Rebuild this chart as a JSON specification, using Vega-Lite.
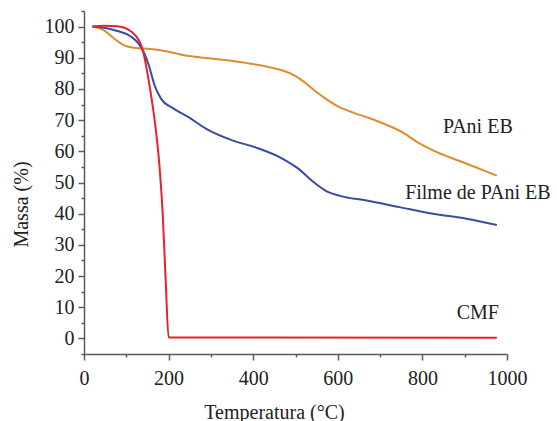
{
  "$schema": "https://vega.github.io/schema/vega-lite/v6.json",
  "width": 423,
  "height": 343,
  "autosize": {"type": "none"},
  "padding": {"left": 84, "top": 11, "right": 50, "bottom": 67},
  "background": "white",
  "config": {
    "view": {"stroke": null},
    "font": "serif"
  },
  "datasets": {
    "tga": [
      {"serie": "PAni EB", "T": 20, "M": 100.0},
      {"serie": "PAni EB", "T": 47, "M": 98.8},
      {"serie": "PAni EB", "T": 71, "M": 96.2},
      {"serie": "PAni EB", "T": 95, "M": 94.0},
      {"serie": "PAni EB", "T": 118, "M": 93.2},
      {"serie": "PAni EB", "T": 158, "M": 92.8},
      {"serie": "PAni EB", "T": 197, "M": 92.0},
      {"serie": "PAni EB", "T": 237, "M": 90.8},
      {"serie": "PAni EB", "T": 276, "M": 90.1},
      {"serie": "PAni EB", "T": 332, "M": 89.3},
      {"serie": "PAni EB", "T": 390, "M": 88.2},
      {"serie": "PAni EB", "T": 438, "M": 87.0},
      {"serie": "PAni EB", "T": 470, "M": 85.9},
      {"serie": "PAni EB", "T": 495, "M": 84.5},
      {"serie": "PAni EB", "T": 517, "M": 82.6},
      {"serie": "PAni EB", "T": 545, "M": 79.5},
      {"serie": "PAni EB", "T": 570, "M": 77.0},
      {"serie": "PAni EB", "T": 598, "M": 74.6},
      {"serie": "PAni EB", "T": 635, "M": 72.5},
      {"serie": "PAni EB", "T": 675, "M": 70.6},
      {"serie": "PAni EB", "T": 715, "M": 68.5},
      {"serie": "PAni EB", "T": 754, "M": 66.0},
      {"serie": "PAni EB", "T": 790, "M": 62.8},
      {"serie": "PAni EB", "T": 825, "M": 60.3},
      {"serie": "PAni EB", "T": 896, "M": 56.5},
      {"serie": "PAni EB", "T": 976, "M": 52.2},
      {"serie": "Filme de PAni EB", "T": 20, "M": 100.0},
      {"serie": "Filme de PAni EB", "T": 47, "M": 99.6},
      {"serie": "Filme de PAni EB", "T": 79, "M": 98.6},
      {"serie": "Filme de PAni EB", "T": 110, "M": 96.9},
      {"serie": "Filme de PAni EB", "T": 130, "M": 94.4},
      {"serie": "Filme de PAni EB", "T": 142, "M": 91.6},
      {"serie": "Filme de PAni EB", "T": 154, "M": 87.3},
      {"serie": "Filme de PAni EB", "T": 166, "M": 81.5},
      {"serie": "Filme de PAni EB", "T": 182, "M": 76.9},
      {"serie": "Filme de PAni EB", "T": 213, "M": 73.6},
      {"serie": "Filme de PAni EB", "T": 250, "M": 70.7},
      {"serie": "Filme de PAni EB", "T": 288, "M": 67.3},
      {"serie": "Filme de PAni EB", "T": 351, "M": 63.5},
      {"serie": "Filme de PAni EB", "T": 407, "M": 61.2},
      {"serie": "Filme de PAni EB", "T": 470, "M": 57.6},
      {"serie": "Filme de PAni EB", "T": 505, "M": 54.6},
      {"serie": "Filme de PAni EB", "T": 545, "M": 49.9},
      {"serie": "Filme de PAni EB", "T": 575, "M": 47.1},
      {"serie": "Filme de PAni EB", "T": 605, "M": 45.7},
      {"serie": "Filme de PAni EB", "T": 668, "M": 44.2},
      {"serie": "Filme de PAni EB", "T": 746, "M": 42.1},
      {"serie": "Filme de PAni EB", "T": 825, "M": 40.0},
      {"serie": "Filme de PAni EB", "T": 904, "M": 38.4},
      {"serie": "Filme de PAni EB", "T": 976, "M": 36.4},
      {"serie": "CMF", "T": 20, "M": 100.0},
      {"serie": "CMF", "T": 47, "M": 100.3},
      {"serie": "CMF", "T": 79, "M": 100.1},
      {"serie": "CMF", "T": 103, "M": 99.2},
      {"serie": "CMF", "T": 122, "M": 97.1},
      {"serie": "CMF", "T": 134, "M": 94.4},
      {"serie": "CMF", "T": 142, "M": 90.7},
      {"serie": "CMF", "T": 150, "M": 85.0},
      {"serie": "CMF", "T": 158, "M": 78.5},
      {"serie": "CMF", "T": 166, "M": 71.0},
      {"serie": "CMF", "T": 178, "M": 56.0},
      {"serie": "CMF", "T": 186, "M": 40.0},
      {"serie": "CMF", "T": 193, "M": 19.0},
      {"serie": "CMF", "T": 200, "M": 0.3},
      {"serie": "CMF", "T": 976, "M": 0.2}
    ],
    "labels": [
      {"label": "PAni EB", "T": 931, "M": 67.8},
      {"label": "Filme de PAni EB", "T": 931, "M": 46.5},
      {"label": "CMF", "T": 931, "M": 8.3}
    ]
  },
  "encoding": {
    "x": {
      "field": "T",
      "type": "quantitative",
      "scale": {"domain": [0, 1000], "nice": false, "zero": false},
      "axis": {
        "title": "Temperatura (°C)",
        "values": [0, 100, 200, 300, 400, 500, 600, 700, 800, 900, 1000],
        "format": "d",
        "labelExpr": "datum.value % 200 === 0 ? datum.label : ''",
        "tickSize": {"condition": {"test": "datum.value % 200 === 0", "value": 6}, "value": 3},
        "grid": false,
        "domainColor": "#5a5a5a",
        "tickColor": "#5a5a5a",
        "domainWidth": 1.5,
        "tickWidth": 1.5,
        "labelFont": "serif",
        "labelFontSize": 20,
        "labelColor": "#222222",
        "labelPadding": 8,
        "labelFlush": false,
        "labelOverlap": false,
        "titleFont": "serif",
        "titleFontSize": 20,
        "titleFontWeight": "normal",
        "titleColor": "#222222",
        "titleX": 190,
        "titleY": 64,
        "titleBaseline": "alphabetic"
      }
    },
    "y": {
      "field": "M",
      "type": "quantitative",
      "scale": {"domain": [-5, 105], "nice": false, "zero": false},
      "axis": {
        "title": "Massa (%)",
        "values": [-5, 0, 5, 10, 15, 20, 25, 30, 35, 40, 45, 50, 55, 60, 65, 70, 75, 80, 85, 90, 95, 100, 105],
        "format": "d",
        "labelExpr": "(datum.value % 10 === 0 && datum.value >= 0 && datum.value <= 100) ? datum.label : ''",
        "tickSize": {"condition": {"test": "datum.value % 10 === 0", "value": 6}, "value": 3},
        "grid": false,
        "domainColor": "#5a5a5a",
        "tickColor": "#5a5a5a",
        "domainWidth": 1.5,
        "tickWidth": 1.5,
        "labelFont": "serif",
        "labelFontSize": 20,
        "labelColor": "#222222",
        "labelPadding": 4,
        "labelFlush": false,
        "labelOverlap": false,
        "titleFont": "serif",
        "titleFontSize": 20,
        "titleFontWeight": "normal",
        "titleColor": "#222222",
        "titleAngle": -90,
        "titleAlign": "center",
        "titleBaseline": "alphabetic",
        "titleX": -57,
        "titleY": 193
      }
    }
  },
  "layer": [
    {
      "data": {"name": "tga"},
      "mark": {"type": "line", "strokeWidth": 2, "interpolate": "monotone"},
      "encoding": {
        "color": {
          "field": "serie",
          "type": "nominal",
          "scale": {
            "domain": ["PAni EB", "Filme de PAni EB", "CMF"],
            "range": ["#de8c2c", "#3b4aa6", "#e8212b"]
          },
          "legend": null
        },
        "order": {"field": "T", "type": "quantitative"}
      }
    },
    {
      "data": {"name": "labels"},
      "mark": {"type": "text", "font": "serif", "fontSize": 20, "color": "#222222", "align": "center", "baseline": "middle"},
      "encoding": {
        "text": {"field": "label"}
      }
    }
  ]
}
